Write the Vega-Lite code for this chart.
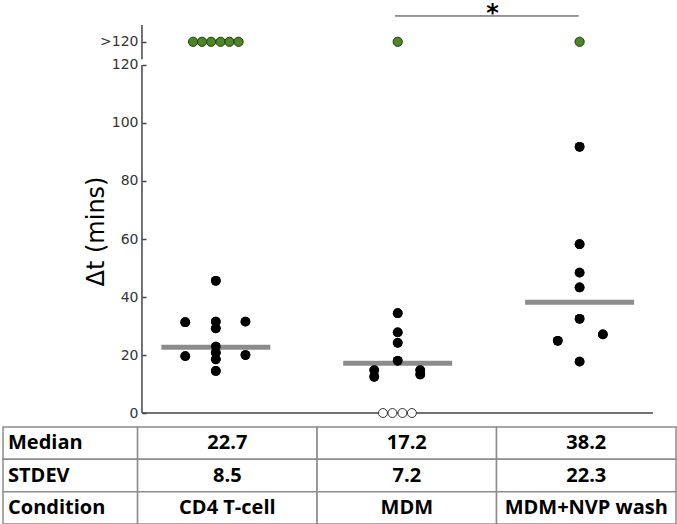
{
  "$schema": "https://vega.github.io/schema/vega-lite/v6.json",
  "padding": {"left": 2, "top": 0, "right": 2, "bottom": 2},
  "spacing": 5,
  "config": {"view": {"stroke": null}, "axis": {"grid": false}},
  "datasets": {
    "black": [
      {"condition": "CD4 T-cell", "x": 1.0, "y": 45.6},
      {"condition": "CD4 T-cell", "x": 0.832, "y": 31.3},
      {"condition": "CD4 T-cell", "x": 1.0, "y": 31.5},
      {"condition": "CD4 T-cell", "x": 1.0, "y": 29.2},
      {"condition": "CD4 T-cell", "x": 1.163, "y": 31.5},
      {"condition": "CD4 T-cell", "x": 1.0, "y": 22.9},
      {"condition": "CD4 T-cell", "x": 1.0, "y": 20.8},
      {"condition": "CD4 T-cell", "x": 1.0, "y": 18.5},
      {"condition": "CD4 T-cell", "x": 0.832, "y": 19.6},
      {"condition": "CD4 T-cell", "x": 1.163, "y": 20.0},
      {"condition": "CD4 T-cell", "x": 1.0, "y": 14.5},
      {"condition": "MDM", "x": 2.0, "y": 34.4},
      {"condition": "MDM", "x": 2.0, "y": 27.8},
      {"condition": "MDM", "x": 2.0, "y": 24.2},
      {"condition": "MDM", "x": 2.0, "y": 18.0},
      {"condition": "MDM", "x": 1.871, "y": 14.8},
      {"condition": "MDM", "x": 1.871, "y": 12.5},
      {"condition": "MDM", "x": 2.124, "y": 14.8},
      {"condition": "MDM", "x": 2.124, "y": 13.3},
      {"condition": "MDM+NVP wash", "x": 3.0, "y": 91.8},
      {"condition": "MDM+NVP wash", "x": 3.0, "y": 58.2},
      {"condition": "MDM+NVP wash", "x": 3.0, "y": 48.4},
      {"condition": "MDM+NVP wash", "x": 3.0, "y": 43.3},
      {"condition": "MDM+NVP wash", "x": 3.0, "y": 32.5},
      {"condition": "MDM+NVP wash", "x": 3.128, "y": 27.1},
      {"condition": "MDM+NVP wash", "x": 2.88, "y": 24.9},
      {"condition": "MDM+NVP wash", "x": 3.0, "y": 17.7}
    ],
    "over": [
      {"condition": "CD4 T-cell", "x": 0.875, "y": 128},
      {"condition": "CD4 T-cell", "x": 0.924, "y": 128},
      {"condition": "CD4 T-cell", "x": 0.974, "y": 128},
      {"condition": "CD4 T-cell", "x": 1.026, "y": 128},
      {"condition": "CD4 T-cell", "x": 1.075, "y": 128},
      {"condition": "CD4 T-cell", "x": 1.125, "y": 128},
      {"condition": "MDM", "x": 2.0, "y": 128},
      {"condition": "MDM+NVP wash", "x": 3.0, "y": 128}
    ],
    "zero": [
      {"condition": "MDM", "x": 1.919, "y": 0},
      {"condition": "MDM", "x": 1.971, "y": 0},
      {"condition": "MDM", "x": 2.026, "y": 0},
      {"condition": "MDM", "x": 2.078, "y": 0}
    ],
    "medians": [
      {"condition": "CD4 T-cell", "x": 1.0, "median": 22.7},
      {"condition": "MDM", "x": 2.0, "median": 17.2},
      {"condition": "MDM+NVP wash", "x": 3.0, "median": 38.2}
    ],
    "one": [{}],
    "table": [
      {"row": "Median", "c0": 0, "c1": 0.75, "mid": 0.375, "text": "Median"},
      {"row": "Median", "c0": 0.75, "c1": 1.75, "mid": 1.25, "text": "22.7"},
      {"row": "Median", "c0": 1.75, "c1": 2.75, "mid": 2.25, "text": "17.2"},
      {"row": "Median", "c0": 2.75, "c1": 3.75, "mid": 3.25, "text": "38.2"},
      {"row": "STDEV", "c0": 0, "c1": 0.75, "mid": 0.375, "text": "STDEV"},
      {"row": "STDEV", "c0": 0.75, "c1": 1.75, "mid": 1.25, "text": "8.5"},
      {"row": "STDEV", "c0": 1.75, "c1": 2.75, "mid": 2.25, "text": "7.2"},
      {"row": "STDEV", "c0": 2.75, "c1": 3.75, "mid": 3.25, "text": "22.3"},
      {"row": "Condition", "c0": 0, "c1": 0.75, "mid": 0.375, "text": "Condition"},
      {"row": "Condition", "c0": 0.75, "c1": 1.75, "mid": 1.25, "text": "CD4 T-cell"},
      {"row": "Condition", "c0": 1.75, "c1": 2.75, "mid": 2.25, "text": "MDM"},
      {"row": "Condition", "c0": 2.75, "c1": 3.75, "mid": 3.25, "text": "MDM+NVP wash"}
    ]
  },
  "vconcat": [
    {
      "width": 673,
      "height": 420,
      "layer": [
        {
          "data": {"name": "black"},
          "mark": {"type": "point", "filled": true, "color": "#000000", "size": 95, "opacity": 1},
          "encoding": {
            "x": {"field": "x", "type": "quantitative", "scale": {"domain": [-0.17, 3.53], "nice": false, "zero": false}, "axis": null},
            "y": {
              "field": "y", "type": "quantitative",
              "scale": {"domain": [-2.41, 142.41], "nice": false, "zero": false},
              "axis": {
                "title": "Δt (mins)",
                "values": [0, 20, 40, 60, 80, 100, 120, 128],
                "labelExpr": "datum.value == 128 ? '>120' : datum.label",
                "domain": false,
                "offset": -139,
                "tickSize": -4,
                "tickColor": "#444444",
                "tickWidth": 1.5,
                "labelPadding": 8,
                "labelFlush": false,
                "labelFont": "DejaVu Sans",
                "labelFontSize": 14,
                "labelColor": "#333333",
                "titleFont": "DejaVu Sans",
                "titleFontSize": 24,
                "titleFontWeight": "normal",
                "titleColor": "#000000",
                "titleX": -46,
                "titleY": 231,
                "titleAngle": 270,
                "titleBaseline": "middle",
                "titleAlign": "center"
              }
            }
          }
        },
        {
          "data": {"name": "one"},
          "mark": {"type": "rule", "color": "#444444", "strokeWidth": 1.5},
          "encoding": {"x": {"datum": 0.594, "type": "quantitative"}, "y": {"datum": 0, "type": "quantitative"}, "y2": {"datum": 120}}
        },
        {
          "data": {"name": "one"},
          "mark": {"type": "rule", "color": "#444444", "strokeWidth": 1.5},
          "encoding": {"x": {"datum": 0.594, "type": "quantitative"}, "y": {"datum": 122, "type": "quantitative"}, "y2": {"datum": 133.8}}
        },
        {
          "data": {"name": "one"},
          "mark": {"type": "rule", "color": "#444444", "strokeWidth": 1.5},
          "encoding": {"x": {"datum": 0.594, "type": "quantitative"}, "x2": {"datum": 3.403}, "y": {"datum": 0, "type": "quantitative"}}
        },
        {
          "data": {"name": "medians"},
          "mark": {"type": "tick", "orient": "horizontal", "color": "#8c8c8c", "size": 109, "thickness": 5, "opacity": 1},
          "encoding": {
            "x": {"field": "x", "type": "quantitative"},
            "y": {"field": "median", "type": "quantitative"}
          }
        },
        {
          "data": {"name": "black"},
          "mark": {"type": "point", "filled": true, "color": "#000000", "size": 95, "opacity": 1},
          "encoding": {
            "x": {"field": "x", "type": "quantitative"},
            "y": {"field": "y", "type": "quantitative"}
          }
        },
        {
          "data": {"name": "over"},
          "mark": {"type": "point", "filled": true, "fill": "#4d8624", "stroke": "#1f3a0c", "strokeWidth": 1, "size": 85, "opacity": 1},
          "encoding": {
            "x": {"field": "x", "type": "quantitative"},
            "y": {"field": "y", "type": "quantitative"}
          }
        },
        {
          "data": {"name": "zero"},
          "mark": {"type": "point", "filled": true, "fill": "#ffffff", "stroke": "#333333", "strokeWidth": 1, "size": 80, "opacity": 1},
          "encoding": {
            "x": {"field": "x", "type": "quantitative"},
            "y": {"field": "y", "type": "quantitative"}
          }
        },
        {
          "data": {"name": "one"},
          "mark": {"type": "rule", "color": "#333333", "strokeWidth": 1},
          "encoding": {"x": {"datum": 1.985, "type": "quantitative"}, "x2": {"datum": 2.995}, "y": {"datum": 136.9, "type": "quantitative"}}
        },
        {
          "data": {"name": "one"},
          "mark": {"type": "text", "text": "*", "font": "DejaVu Sans", "fontSize": 24, "fontWeight": "bold", "color": "#000000", "align": "center", "baseline": "alphabetic"},
          "encoding": {"x": {"datum": 2.522, "type": "quantitative"}, "y": {"datum": 135.2, "type": "quantitative"}}
        }
      ]
    },
    {
      "width": 673,
      "height": 97,
      "data": {"name": "table"},
      "layer": [
        {
          "mark": {"type": "rect", "fill": "#ffffff", "stroke": "#8c8c8c", "strokeWidth": 1.5},
          "encoding": {
            "x": {"field": "c0", "type": "quantitative", "scale": {"domain": [0, 3.75], "nice": false, "zero": false}, "axis": null},
            "x2": {"field": "c1"},
            "y": {"field": "row", "type": "nominal", "sort": ["Median", "STDEV", "Condition"], "scale": {"paddingInner": 0, "paddingOuter": 0}, "axis": null}
          }
        },
        {
          "transform": [{"filter": "datum.c0 == 0"}],
          "mark": {"type": "text", "align": "left", "dx": 5, "font": "Open Sans", "fontSize": 20, "fontWeight": "bold", "baseline": "middle", "color": "#000000"},
          "encoding": {
            "x": {"field": "c0", "type": "quantitative"},
            "y": {"field": "row", "type": "nominal", "sort": ["Median", "STDEV", "Condition"]},
            "text": {"field": "text"}
          }
        },
        {
          "transform": [{"filter": "datum.c0 > 0"}],
          "mark": {"type": "text", "align": "center", "font": "Open Sans", "fontSize": 20, "fontWeight": "bold", "baseline": "middle", "color": "#000000"},
          "encoding": {
            "x": {"field": "mid", "type": "quantitative"},
            "y": {"field": "row", "type": "nominal", "sort": ["Median", "STDEV", "Condition"]},
            "text": {"field": "text"}
          }
        }
      ]
    }
  ]
}
